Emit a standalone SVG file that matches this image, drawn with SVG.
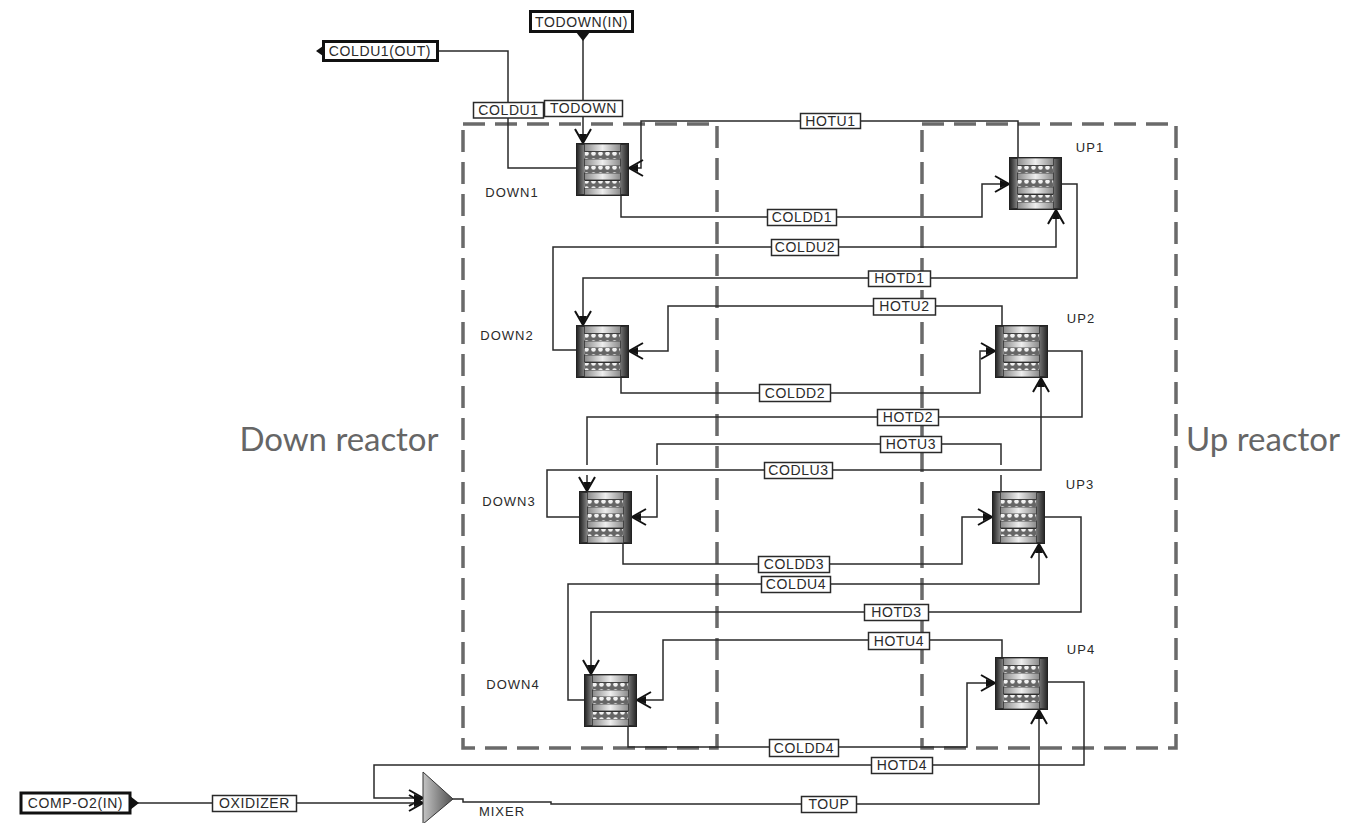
<svg xmlns="http://www.w3.org/2000/svg" width="1354" height="823" viewBox="0 0 1354 823">
<style>
.c{fill:none;stroke:#2a2a2a;stroke-width:1.5}
.a{marker-end:url(#ah)}
.zone{fill:none;stroke:#6a6a6a;stroke-width:3.5;stroke-dasharray:22 10}
.sl rect{fill:#fff;stroke:#2a2a2a;stroke-width:1.5}
.sl text,.t text{font-family:"Liberation Sans",Arial,sans-serif;font-size:14px;letter-spacing:.6px;fill:#2a2a2a;text-anchor:middle}
.n{font-family:"Liberation Sans",Arial,sans-serif;font-size:13px;letter-spacing:1px;fill:#2a2a2a;text-anchor:middle}
.t rect{fill:#fff;stroke:#111;stroke-width:3}
.big{font-family:Lato,"Open Sans",sans-serif;font-size:33px;fill:#666;text-anchor:middle}
</style>
<defs>
<linearGradient id="gl" x1="0" x2="1" y1="0" y2="0"><stop offset="0" stop-color="#333"/><stop offset="1" stop-color="#8c8c8c"/></linearGradient>
<linearGradient id="gr" x1="0" x2="1" y1="0" y2="0"><stop offset="0" stop-color="#777"/><stop offset="1" stop-color="#333"/></linearGradient>
<linearGradient id="gc" x1="0" x2="1" y1="0" y2="0"><stop offset="0" stop-color="#8a8a8a"/><stop offset=".5" stop-color="#eee"/><stop offset="1" stop-color="#8a8a8a"/></linearGradient>
<linearGradient id="gm" x1="0" x2="1" y1="0" y2="0"><stop offset="0" stop-color="#c4c4c4"/><stop offset="1" stop-color="#505050"/></linearGradient>
<pattern id="dots" width="7" height="7" patternUnits="userSpaceOnUse"><rect width="7" height="7" fill="#666"/><circle cx="3.500" cy="3.500" r="2.300" fill="#f2f2f2"/></pattern>
<marker id="ah" markerUnits="userSpaceOnUse" markerWidth="18" markerHeight="20" refX="15" refY="10" orient="auto">
<path d="M1 2L15 10L1 18" fill="none" stroke="#111" stroke-width="2"/><path d="M6 6L15 10L6 14Z" fill="#111"/>
</marker>
<g id="hx">
<rect x=".5" y=".5" width="52" height="52" fill="#2e2e2e" stroke="#222"/>
<rect x="2" y="2" width="7" height="49" fill="url(#gl)"/>
<rect x="44" y="2" width="7" height="49" fill="url(#gr)"/>
<g stroke="#333" stroke-width=".8" fill="url(#gc)">
<rect x="8.500" y="1" width="36" height="7.500"/><rect x="8.500" y="16" width="36" height="7"/><rect x="8.500" y="30" width="36" height="7"/><rect x="8.500" y="45" width="36" height="7"/>
</g>
<rect x="9" y="9" width="35" height="7" fill="url(#dots)"/><rect x="9" y="23" width="35" height="7" fill="url(#dots)"/><rect x="9" y="38" width="35" height="7" fill="url(#dots)"/>
</g>
</defs>
<rect width="1354" height="823" fill="#fff"/>
<rect class="zone" x="463" y="124" width="254" height="624"/>
<rect class="zone" x="922" y="124" width="254" height="624"/>
<text class="big" x="339" y="451" textLength="199">Down reactor</text>
<text class="big" x="1263" y="451" textLength="154">Up reactor</text>
<g id="connectors">
<path class="c" d="M437 51H508V168H576"/>
<path class="c a" d="M583 32V143"/>
<path class="c a" d="M1018 157V121H641V168H629"/>
<path class="c a" d="M621 196V217H982V184H1009"/>
<path class="c a" d="M576 350H553V247H1056V210"/>
<path class="c a" d="M1062 184H1077V278H583V325"/>
<path class="c a" d="M1002 325V306H668V351H629"/>
<path class="c a" d="M621 378V393H980V351H995"/>
<path class="c" d="M1048 351H1082V417H587V465"/><path class="c a" d="M587 475V491"/>
<path class="c" d="M1001 491V475"/><path class="c" d="M1001 465V444H657V465"/><path class="c a" d="M657 475V517H632"/>
<path class="c a" d="M579 517H547V470H1041V378"/>
<path class="c a" d="M623 544V564H962V517H992"/>
<path class="c a" d="M584 700H568V584H1039V544"/>
<path class="c a" d="M1045 517H1081V612H591V674"/>
<path class="c a" d="M1002 657V640H663V700H637"/>
<path class="c a" d="M628 727V747H967V683H995"/>
<path class="c a" d="M1048 682H1084V765H374V798H423"/>
<path class="c a" d="M137 803H423"/>
<path class="c a" d="M453 799H463V802H551V804H1039V710"/>
<path d="M130 796L139 803L130 810Z" fill="#111"/>
<path d="M576 32H590L583 41Z" fill="#111"/>
<path d="M323 46L316 51L323 56Z" fill="#111"/>
<g class="sl">
<rect x="473.500" y="102.500" width="70" height="15.500"/><text x="508.500" y="115">COLDU1</text>
<rect x="544.500" y="100.500" width="78" height="16"/><text x="583.500" y="113">TODOWN</text>
<rect x="800.500" y="113.500" width="60" height="15"/><text x="830.500" y="126">HOTU1</text>
<rect x="767.500" y="209.500" width="69" height="16"/><text x="802" y="222">COLDD1</text>
<rect x="771.500" y="239.500" width="67" height="16"/><text x="805" y="252">COLDU2</text>
<rect x="868.500" y="271" width="62" height="15.500"/><text x="899.500" y="283">HOTD1</text>
<rect x="873.500" y="298.500" width="62" height="16.500"/><text x="904.500" y="311">HOTU2</text>
<rect x="759.500" y="384.500" width="71" height="17"/><text x="795" y="398">COLDD2</text>
<rect x="877.500" y="409.500" width="61" height="16"/><text x="908" y="422">HOTD2</text>
<rect x="880.500" y="436.500" width="61" height="16"/><text x="911" y="449">HOTU3</text>
<rect x="764.500" y="462.500" width="68" height="16"/><text x="798.500" y="475">CODLU3</text>
<rect x="758.500" y="556.500" width="71" height="16"/><text x="794" y="569">COLDD3</text>
<rect x="761.500" y="576.500" width="69" height="16"/><text x="796" y="589">COLDU4</text>
<rect x="864.500" y="604.500" width="64" height="16"/><text x="896.500" y="617">HOTD3</text>
<rect x="868.500" y="632.500" width="61" height="17"/><text x="899" y="646">HOTU4</text>
<rect x="769.500" y="739.500" width="69" height="17"/><text x="804" y="753">COLDD4</text>
<rect x="871.500" y="757.500" width="61" height="16"/><text x="902" y="770">HOTD4</text>
<rect x="212.500" y="795.500" width="84" height="16"/><text x="254.500" y="808">OXIDIZER</text>
<rect x="801.500" y="796.500" width="55" height="16"/><text x="829" y="809">TOUP</text>
</g>
</g>
<g id="COLDU1-OUT" class="t"><rect x="323.500" y="41.500" width="114" height="19"/><text x="380" y="56">COLDU1(OUT)</text></g>
<g id="TODOWN-IN" class="t"><rect x="530.500" y="11.500" width="102" height="20"/><text x="581.500" y="27">TODOWN(IN)</text></g>
<g id="COMP-O2-IN" class="t"><rect x="21" y="793" width="109" height="20"/><text x="75.500" y="808">COMP-O2(IN)</text></g>
<g id="DOWN1"><use href="#hx" x="576" y="143"/><text class="n" x="512" y="197">DOWN1</text></g>
<g id="UP1"><use href="#hx" x="1009" y="157"/><text class="n" x="1090" y="152">UP1</text></g>
<g id="DOWN2"><use href="#hx" x="576" y="325"/><text class="n" x="507" y="340">DOWN2</text></g>
<g id="UP2"><use href="#hx" x="995" y="325"/><text class="n" x="1081" y="323">UP2</text></g>
<g id="DOWN3"><use href="#hx" x="579" y="491"/><text class="n" x="509" y="506">DOWN3</text></g>
<g id="UP3"><use href="#hx" x="992" y="491"/><text class="n" x="1080" y="489">UP3</text></g>
<g id="DOWN4"><use href="#hx" x="584" y="674"/><text class="n" x="513" y="689">DOWN4</text></g>
<g id="UP4"><use href="#hx" x="995" y="657"/><text class="n" x="1081" y="654">UP4</text></g>
<g id="MIXER"><path d="M423 772L453 799L423 824Z" fill="url(#gm)" stroke="#333"/><text class="n" x="502" y="816">MIXER</text></g>
</svg>
